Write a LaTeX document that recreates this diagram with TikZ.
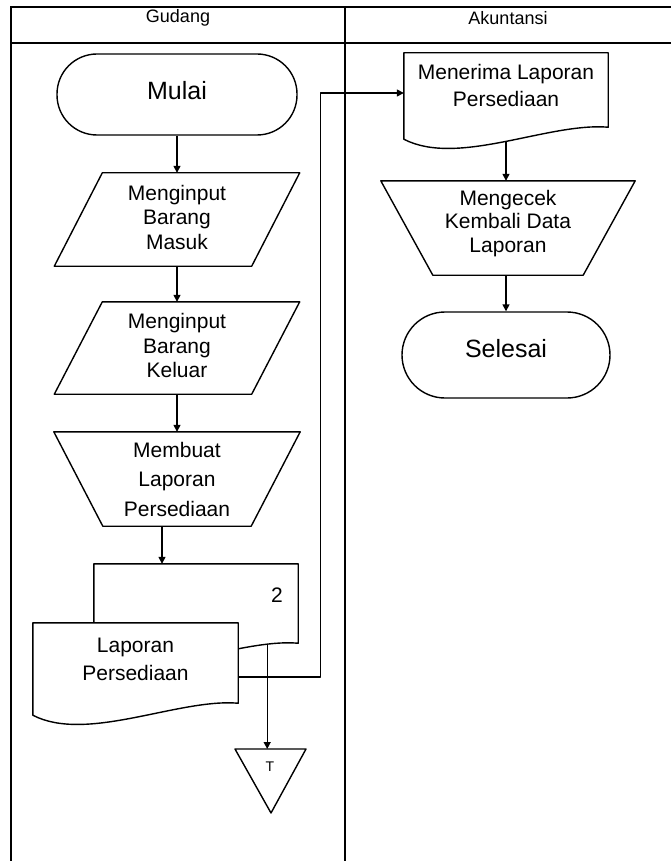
\documentclass[tikz,border=0pt]{standalone}
\usepackage{fontspec}
\setmainfont{Liberation Sans}
\usetikzlibrary{calc,arrows.meta}
\tikzset{
  lane/.style={draw=black, line width=1.8pt, line cap=rect},
  ln/.style={draw=black, line width=1.4pt, line join=round},
  arr/.style={ln, -{Triangle[length=7pt,width=7pt]}},
  blk/.style={inner sep=0pt, align=center, font=\fontsize{21}{24.5}\selectfont},
  hd/.style={inner sep=0pt, font=\fontsize{18}{20}\selectfont},
  term/.style={ln, inner sep=0pt, font=\fontsize{25}{28}\selectfont},
}

\begin{document}
\begin{tikzpicture}[x=1pt, y=-1pt]
  \useasboundingbox (0,0) rectangle (671,861);
  \pgfmathsetmacro{\sl}{48} % slant of the input boxes
  % swimlanes
  \draw[lane] (11,861) -- (11,7) -- (671,7);
  \draw[lane] (11,43) -- (671,43);
  \draw[lane] (345,7) -- (345,861);
  \node[hd] (gudang) at (178,18) {Gudang};
  \node[hd] (akun) at (508,18) {Akuntansi};

  % Gudang
  \node[term, rounded corners=40pt, minimum width=240pt, minimum height=81pt, text depth=9pt] (mulai) at (177,94.5) {Mulai};
  \node[blk, minimum width=245pt, minimum height=93pt, text depth=5pt] (masuk) at (177,219.5) {Menginput\\Barang\\Masuk};
  \node[blk, minimum width=245pt, minimum height=92pt, text depth=5pt] (keluar) at (177,348) {Menginput\\Barang\\Keluar};
  \node[blk, font=\fontsize{21}{29.5}\selectfont, minimum width=246pt, minimum height=94pt] (membuat) at (177,479) {Membuat\\Laporan\\Persediaan};
  \foreach \n in {masuk,keluar}
    \draw[ln] ($(\n.north west)+(\sl,0)$) -- (\n.north east) -- ($(\n.south east)-(\sl,0)$) -- (\n.south west) -- cycle;
  \draw[ln] (membuat.north west) -- (membuat.north east) -- ($(membuat.south east)-(49,0)$) -- ($(membuat.south west)+(49,0)$) -- cycle;

  \node[blk, minimum width=204pt, minimum height=79pt] (arsip) at (196,603.5) {};
  \draw[ln, fill=white] (arsip.south east) .. controls +(-60,-5) and +(54,28) .. ($(arsip.south west)+(0,12)$)
    -- (arsip.north west) -- (arsip.north east) -- cycle;
  \node[blk] (dua) at (277,595) {2};
  \node[blk, minimum width=205pt, minimum height=80pt] (laporan) at (135.5,663) {};
  \draw[ln, fill=white] (laporan.south east) .. controls +(-60,-5) and +(54,28) .. ($(laporan.south west)+(0,12)$)
    -- (laporan.north west) -- (laporan.north east) -- cycle;
  \node[blk, font=\fontsize{21}{28}\selectfont] (lapTxt) at ([yshift=4pt]laporan.center) {Laporan\\Persediaan};

  \node[inner sep=0pt, font=\fontsize{14}{16}\selectfont] (off) at (270,767) {T};
  \coordinate (offTop) at ($(off)+(-2,-18)$);
  \draw[ln] ($(off)+(-35,-18)$) -- ($(off)+(36,-18)$) -- ($(off)+(1,46)$) -- cycle;

  % Akuntansi
  \node[blk, font=\fontsize{21}{27}\selectfont, minimum width=204pt, minimum height=74pt, text depth=9pt] (menerima) at (506,90) {Menerima Laporan\\Persediaan};
  \draw[ln] (menerima.south east) .. controls +(-60,-5) and +(54,28) .. ($(menerima.south west)+(0,12)$)
    -- (menerima.north west) -- (menerima.north east) -- cycle;
  \node[blk, font=\fontsize{21}{23.5}\selectfont, minimum width=254pt, minimum height=94pt, text depth=14pt] (cek) at (508,228) {Mengecek\\Kembali Data\\Laporan};
  \draw[ln] (cek.north west) -- (cek.north east) -- ($(cek.south east)-(52,0)$) -- ($(cek.south west)+(52,0)$) -- cycle;
  \node[term, rounded corners=43pt, minimum width=208pt, minimum height=86pt, text depth=14pt] (selesai) at (506,355) {Selesai};

  % connectors
  \draw[arr] (mulai) -- (masuk);
  \draw[arr] (masuk) -- (keluar);
  \draw[arr] (keluar) -- (membuat);
  \draw[arr] ([xshift=-15pt]membuat.south) -- ([xshift=-15pt]membuat.south |- arsip.north);
  \coordinate (arsipOut) at ($(arsip.south east)+(-31,2)$);
  \draw[arr] (arsipOut) -- (arsipOut |- offTop);
  \draw[arr] ([yshift=-14pt]laporan.east) -- ++(82,0) |- ([yshift=-3pt]menerima.west);
  \draw[arr] ([yshift=-15pt]menerima.south) -- (menerima.south |- cek.north);
  \draw[arr] (cek.south -| selesai.north) -- (selesai.north);
\end{tikzpicture}
\end{document}
